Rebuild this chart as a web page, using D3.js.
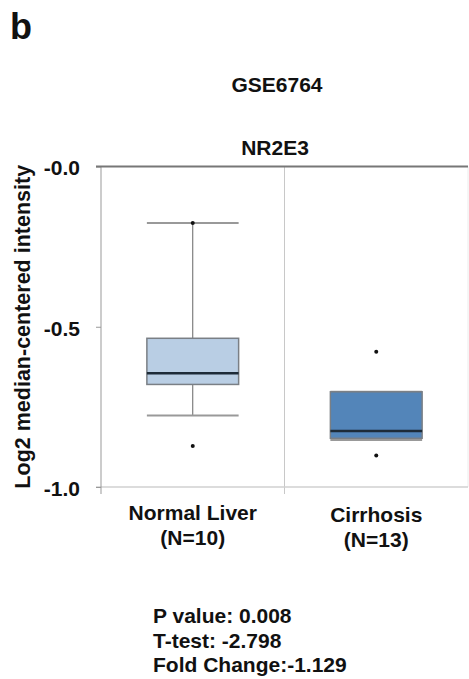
<!DOCTYPE html>
<html>
<head>
<meta charset="utf-8">
<script src="https://cdn.jsdelivr.net/npm/d3@7"></script>
<style>
  body { margin: 0; background: #fff; }
  text { font-family: "Liberation Sans", Arial, sans-serif; font-weight: bold; fill: #111; }
</style>
</head>
<body>
<svg id="chart" width="469" height="679"></svg>
<script>
// data
var groups = ['Normal Liver', 'Cirrhosis'];
var groupN = ['(N=10)', '(N=13)'];
var whiskerHigh = [-0.176, -0.703];
var q3 = [-0.536, -0.703];
var median = [-0.645, -0.825];
var q1 = [-0.680, -0.848];
var whiskerLow = [-0.777, -0.853];
var points = [[-0.176, -0.872], [-0.578, -0.902]];
var yTicks = [0, -0.5, -1.0];
var statLines = ['P value: 0.008', 'T-test: -2.798', 'Fold Change:-1.129'];
var fills = ['#b9cee4', '#5385b9'];

var svg = d3.select('#chart');
var plotLeft = 101, plotRight = 468, plotTop = 166.5, plotBottom = 487;

var y = d3.scaleLinear().domain([-1, 0]).range([plotBottom, plotTop]);
var x = d3.scaleBand().domain(groups).range([plotLeft, plotRight]).paddingInner(0).paddingOuter(0);
var boxW = x.bandwidth() * 0.5;

svg.append('text').attr('x', 10).attr('y', 39).style('font-size', '36px').text('b');
svg.append('text').attr('x', 277).attr('y', 92).attr('text-anchor', 'middle').style('font-size', '21px').text('GSE6764');
svg.append('text').attr('x', 275).attr('y', 155).attr('text-anchor', 'middle').style('font-size', '21px').text('NR2E3');

// frame lines
var mid = x('Cirrhosis');
svg.append('line').attr('x1', plotRight).attr('x2', plotRight).attr('y1', plotTop).attr('y2', plotBottom)
    .attr('stroke', '#ececec').attr('stroke-width', 1);
svg.append('line').attr('x1', mid).attr('x2', mid).attr('y1', plotTop).attr('y2', plotBottom + 7)
    .attr('stroke', '#c8c8c8').attr('stroke-width', 1);
svg.append('line').attr('x1', 96).attr('x2', plotRight).attr('y1', plotBottom).attr('y2', plotBottom)
    .attr('stroke', '#d0d0d0').attr('stroke-width', 1.5);

var fmt = d3.formatLocale({decimal: '.', thousands: ',', grouping: [3], currency: ['', ''], minus: '-'}).format('.1f');
var yAxis = svg.append('g').attr('transform', 'translate(' + plotLeft + ',0)')
    .call(d3.axisLeft(y).tickValues(yTicks).tickSize(5).tickPadding(16)
        .tickFormat(function (d) { return d === 0 ? '-0.0' : fmt(d); }));
yAxis.select('.domain').remove();
yAxis.selectAll('.tick line').attr('stroke', '#999');
yAxis.selectAll('.tick text').style('font-size', '21px').attr('fill', '#111').attr('dy', '0.4em');
svg.append('line').attr('x1', plotLeft).attr('x2', plotLeft).attr('y1', plotTop).attr('y2', plotBottom + 7)
    .attr('stroke', '#999').attr('stroke-width', 1);
svg.append('line').attr('x1', 96).attr('x2', plotRight).attr('y1', plotTop).attr('y2', plotTop)
    .attr('stroke', '#777').attr('stroke-width', 2);

svg.append('text').attr('transform', 'translate(30,' + (plotTop + plotBottom) / 2 + ') rotate(-90)')
    .attr('text-anchor', 'middle').style('font-size', '21.5px').text('Log2 median-centered intensity');

// boxes
var g = svg.selectAll('.box').data(groups).enter().append('g').attr('class', 'box');
g.each(function (name, i) {
    var el = d3.select(this);
    var cx = x(name) + x.bandwidth() / 2;
    var x0 = cx - boxW / 2;
    el.append('line').attr('x1', cx).attr('x2', cx).attr('y1', y(whiskerHigh[i])).attr('y2', y(whiskerLow[i]))
        .attr('stroke', '#666').attr('stroke-width', 1);
    [whiskerHigh[i], whiskerLow[i]].forEach(function (v) {
        el.append('line').attr('x1', x0).attr('x2', x0 + boxW).attr('y1', y(v)).attr('y2', y(v))
            .attr('stroke', '#999').attr('stroke-width', 2);
    });
    el.append('rect').attr('x', x0).attr('y', y(q3[i])).attr('width', boxW).attr('height', y(q1[i]) - y(q3[i]))
        .attr('fill', fills[i]).attr('stroke', '#7a7f85').attr('stroke-width', 1.5);
    el.append('line').attr('x1', x0).attr('x2', x0 + boxW).attr('y1', y(median[i])).attr('y2', y(median[i]))
        .attr('stroke', '#1d2b38').attr('stroke-width', 2.5);
    points[i].forEach(function (v) {
        el.append('circle').attr('cx', cx).attr('cy', y(v)).attr('r', 2).attr('fill', '#111');
    });
    el.append('text').attr('x', cx).attr('y', 520 + i * 2).attr('text-anchor', 'middle').style('font-size', '21px').text(name);
    el.append('text').attr('x', cx).attr('y', 545 + i * 2).attr('text-anchor', 'middle').style('font-size', '21px').text(groupN[i]);
});

svg.selectAll('.stat').data(statLines).enter().append('text').attr('class', 'stat')
    .attr('x', 153).attr('y', function (d, i) { return 623 + i * 24.5; })
    .style('font-size', '21px').text(function (d) { return d; });
</script>
</body>
</html>
